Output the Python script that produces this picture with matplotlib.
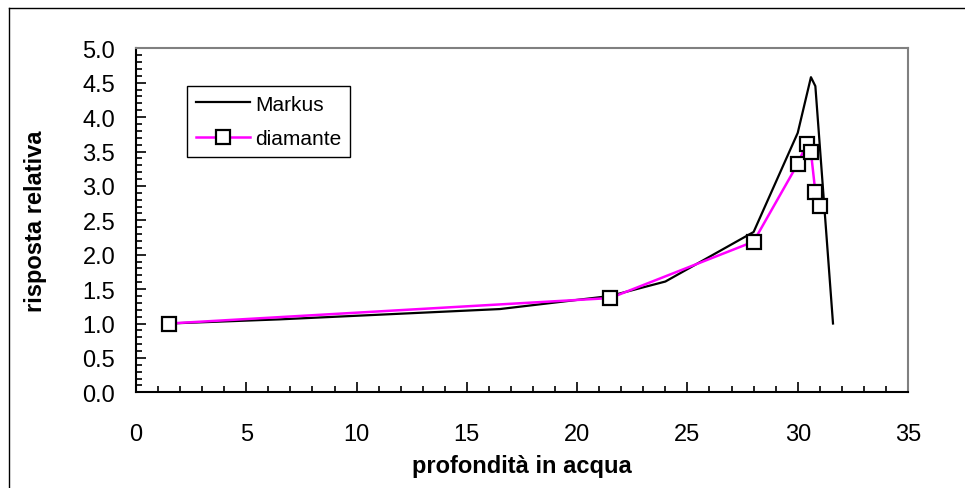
import numpy as np
import matplotlib.pyplot as plt
from matplotlib.ticker import MultipleLocator

plt.rcParams['font.family'] = ['Liberation Sans', 'DejaVu Sans']

# Markus ionization chamber
markus_x = [1.5, 6.5, 16.5, 21.5, 24.0, 28.0, 30.0, 30.6, 30.8, 31.6]
markus_y = [1.00, 1.06, 1.21, 1.40, 1.61, 2.33, 3.77, 4.58, 4.45, 1.00]

# diamond detector
diam_x = [1.5, 21.5, 28.0, 30.0, 30.4, 30.6, 30.8, 31.0]
diam_y = [1.00, 1.37, 2.19, 3.32, 3.61, 3.49, 2.91, 2.71]

fig = plt.figure(figsize=(9.65, 4.89), dpi=100)
ax = fig.add_axes([136/965, 1 - 393.3/489, 772/965, 344/489])

ax.plot(markus_x, markus_y, color='black', lw=1.6, label='Markus')
ax.plot(diam_x, diam_y, color='#ff00ff', lw=1.8, marker='s', ms=10,
        mfc='white', mec='black', mew=1.6, label='diamante')

ax.set_xlim(0, 35)
ax.set_ylim(0, 5)
ax.xaxis.set_major_locator(MultipleLocator(5))
ax.xaxis.set_minor_locator(MultipleLocator(1))
ax.yaxis.set_major_locator(MultipleLocator(0.5))
ax.yaxis.set_minor_locator(MultipleLocator(0.1))
ax.yaxis.set_major_formatter(plt.FormatStrFormatter('%.1f'))

ax.tick_params(which='both', direction='in', top=False, right=False,
               labelsize=17, width=1.2, color='black')
ax.tick_params(which='major', length=7)
ax.tick_params(which='minor', length=4.5)
ax.tick_params(axis='x', which='major', pad=22)
ax.tick_params(axis='y', which='major', pad=15)

for s in ['left', 'bottom']:
    ax.spines[s].set_linewidth(1.5)
    ax.spines[s].set_color('black')
for s in ['top', 'right']:
    ax.spines[s].set_linewidth(1.5)
    ax.spines[s].set_color('#808080')

ax.set_xlabel('profondità in acqua', fontsize=17, fontweight='bold')
ax.set_ylabel('risposta relativa', fontsize=17, fontweight='bold')
ax.xaxis.set_label_coords(0.5, -0.18)
ax.yaxis.set_label_coords(-0.115, 0.5)

leg = ax.legend(loc='upper left', bbox_to_anchor=(0.0665, 0.8895),
                borderaxespad=0, fontsize=15, fancybox=False, framealpha=1,
                handlelength=2.6, handletextpad=0.25, labelspacing=0.75,
                borderpad=0.4)
leg.get_frame().set_edgecolor('black')
leg.get_frame().set_linewidth(1.0)

# outer chart border
fig.add_artist(plt.Line2D([9/965, 9/965], [0, 1 - 9/489], color='black', lw=1.0))
fig.add_artist(plt.Line2D([9/965, 1], [1 - 9/489, 1 - 9/489], color='black', lw=1.0))

fig.savefig('out.png', dpi=100)
